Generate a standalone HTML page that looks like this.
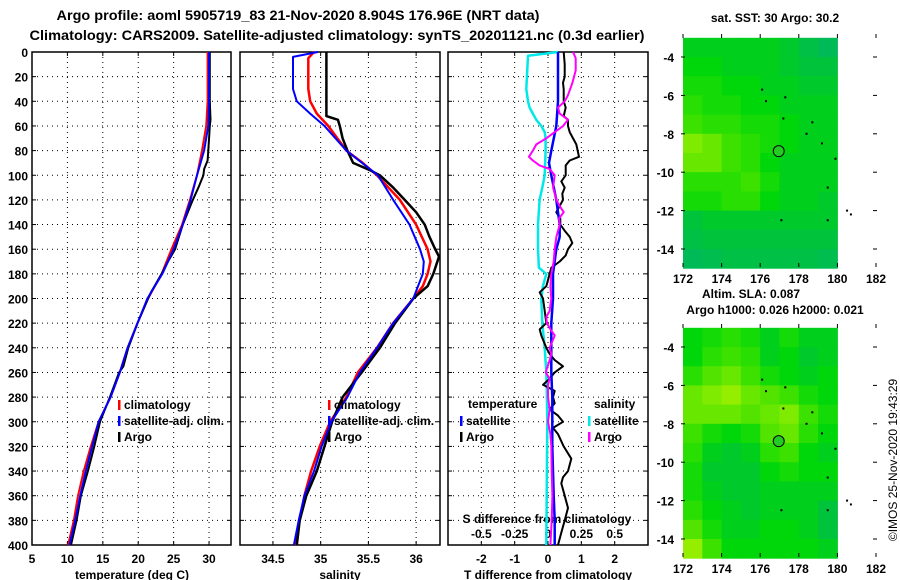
<!DOCTYPE html>
<html><head><meta charset="utf-8">
<style>
html,body{margin:0;padding:0;background:#fff;}
svg{display:block;font-family:"Liberation Sans",sans-serif;font-weight:bold;}
text{font-size:12px;fill:#000;}
</style></head>
<body>
<svg id="fig" width="900" height="580" viewBox="0 0 900 580" xmlns="http://www.w3.org/2000/svg">
<text x="298" y="20" text-anchor="middle" style="font-size:14px" textLength="483" lengthAdjust="spacingAndGlyphs">Argo profile: aoml 5905719_83 21-Nov-2020 8.904S 176.96E (NRT data)</text>
<text x="337" y="40" text-anchor="middle" style="font-size:14px" textLength="615" lengthAdjust="spacingAndGlyphs">Climatology: CARS2009. Satellite-adjusted climatology: synTS_20201121.nc (0.3d earlier)</text>
<g id="layer"></g>
</svg>
<script>
// ---------- data ----------
const depthTicks = [0,20,40,60,80,100,120,140,160,180,200,220,240,260,280,300,320,340,360,380,400];
const tempTicks = [5,10,15,20,25,30];
const salTicks = [34.5,35,35.5,36];
const tdiffTicks = [-2,-1,0,1,2];
const sdiffTicks = [-0.5,-0.25,0,0.25,0.5];
const sdiffTickLabels = ["-0.5","-0.25","0","0.25","0.5"];

const climTDepth = [0,20,40,60,80,100,120,140,160,180,200,220,240,260,280,300,320,340,360,380,400];
const climT = [29.8,29.8,29.8,29.6,29.0,28.3,27.3,26.2,24.7,23.3,21.4,19.9,18.5,17.4,16.1,14.4,13.3,12.3,11.5,10.9,10.1];
const satT = [30.0,30.0,30.0,29.9,29.3,28.3,27.4,26.3,25.0,23.4,21.3,19.9,18.5,17.4,16.1,14.4,13.5,12.6,11.8,11.1,10.3];
const argoTDepth = [0,20,40,55,60,80,88,95,100,110,120,140,160,170,180,195,200,220,240,255,260,280,300,320,340,360,380,400];
const argoT = [30.1,30.1,30.1,30.2,30.1,29.9,29.8,29.3,29.2,28.5,27.7,26.3,25.2,24.2,23.3,21.8,21.4,19.9,18.6,17.9,17.3,16.0,14.6,13.8,12.9,11.9,11.3,10.5];

const argoSDepth = [0,52,55,60,70,80,90,96,100,110,120,130,140,150,160,166,180,190,200,220,240,260,280,300,320,340,360,380,400];
const argoS = [35.06,35.06,35.18,35.2,35.23,35.28,35.34,35.52,35.62,35.76,35.88,36.0,36.09,36.14,36.2,36.24,36.18,36.12,35.97,35.78,35.62,35.43,35.23,35.12,35.04,34.96,34.85,34.78,34.75];
const climSDepth = [0,5,30,40,50,60,80,90,100,120,140,160,170,180,190,200,220,240,260,280,300,320,340,360,380,400];
const climS = [34.93,34.87,34.87,34.89,34.96,35.08,35.27,35.44,35.59,35.83,36.0,36.12,36.15,36.12,36.07,35.97,35.76,35.59,35.39,35.27,35.1,34.99,34.9,34.83,34.78,34.73];
const satSDepth = [0,4,30,40,50,60,80,100,120,140,160,170,180,190,200,220,240,260,280,300,320,340,360,380,400];
const satS = [34.97,34.71,34.71,34.75,34.89,35.04,35.27,35.6,35.76,35.93,36.04,36.08,36.07,36.02,35.97,35.76,35.59,35.41,35.28,35.11,35.01,34.93,34.83,34.77,34.72];

const satTdDepth = [0,40,60,80,90,100,120,140,150,160,180,200,220,260,280,320,340,360,380,400];
const satTd = [0.3,0.3,0.25,0.1,0.03,0.1,0.25,0.35,0.35,0.25,0.15,0.15,0.1,0.1,0.13,0.13,0.15,0.17,0.2,0.2];
const argoTdDepth = [0,10,20,25,30,40,45,52,55,60,65,75,85,88,92,100,105,110,115,120,130,135,140,145,150,155,160,165,170,175,180,190,195,200,210,220,225,230,240,245,250,255,260,265,270,275,280,285,290,295,300,305,310,320,330,340,345,350,360,370,380,390,400];
const argoTd = [0.47,0.5,0.5,0.45,0.47,0.47,0.53,0.47,0.6,0.6,0.65,0.85,0.93,0.65,0.53,0.53,0.4,0.5,0.43,0.45,0.25,0.37,0.37,0.5,0.65,0.73,0.6,0.53,0.35,0.1,0.05,-0.05,-0.25,-0.15,-0.1,-0.05,-0.25,-0.2,-0.05,0.05,0.2,0.45,0.2,0.05,-0.15,0.2,0.15,0.2,0.05,0.3,0.45,0.15,0.3,0.47,0.7,0.6,0.45,0.4,0.5,0.6,0.5,0.4,0.3];
const satSdDepth = [0,3,30,40,45,50,55,60,65,70,80,100,110,120,140,160,175,180,190,200,220,240,260,280,300,340,400];
const satSd = [0.075,-0.15,-0.163,-0.15,-0.138,-0.113,-0.088,-0.05,-0.025,-0.018,-0.018,-0.025,-0.043,-0.063,-0.075,-0.075,-0.068,-0.013,-0.038,-0.05,-0.043,-0.025,-0.013,-0.008,-0.005,-0.008,-0.013];
const argoSdDepth = [0,5,15,25,35,40,45,50,55,60,65,70,75,80,85,88,92,95,100,110,120,125,130,135,140,150,160,170,180,190,200,210,215,220,225,230,240,245,250,260,265,270,280,290,300,310,320,340,360,380,400];
const argoSd = [0.188,0.208,0.208,0.183,0.15,0.125,0.075,0.088,0.15,0.113,0.05,-0.013,-0.088,-0.113,-0.143,-0.113,-0.063,0.013,0.05,0.038,0.063,0.088,0.118,0.083,0.088,0.063,0.05,0.043,0.025,0.018,0.025,0.013,-0.013,-0.008,0.018,0.05,0.013,0.025,0.013,-0.018,0.013,0,0,0.013,0,0.018,0.025,0.028,0.033,0.028,0.018];

// map data: rows lat -3..-15 (1 deg), cols lon 172..180
const mapLonTicks = [172,174,176,178,180,182];
const mapLatTicks = [-4,-6,-8,-10,-12,-14];
const sstGrid = [
[0.45,0.45,0.45,0.45,0.45,0.4,0.3,0.2],
[0.5,0.5,0.45,0.45,0.45,0.4,0.35,0.35],
[0.55,0.55,0.5,0.5,0.45,0.45,0.4,0.4],
[0.6,0.55,0.55,0.5,0.5,0.45,0.45,0.45],
[0.65,0.6,0.6,0.55,0.55,0.5,0.45,0.45],
[0.8,0.75,0.65,0.6,0.55,0.5,0.45,0.45],
[0.75,0.75,0.65,0.6,0.5,0.45,0.45,0.45],
[0.6,0.6,0.6,0.65,0.55,0.45,0.45,0.45],
[0.55,0.55,0.6,0.6,0.5,0.45,0.45,0.4],
[0.35,0.4,0.4,0.4,0.4,0.4,0.4,0.4],
[0.3,0.35,0.35,0.35,0.35,0.35,0.35,0.35],
[0.2,0.25,0.3,0.3,0.3,0.3,0.3,0.25]];
const slaGrid = [
[0.5,0.55,0.6,0.55,0.45,0.55,0.45,0.45],
[0.5,0.6,0.65,0.6,0.45,0.5,0.4,0.45],
[0.6,0.7,0.75,0.65,0.55,0.5,0.45,0.5],
[0.75,0.8,0.85,0.75,0.7,0.65,0.55,0.5],
[0.75,0.75,0.75,0.7,0.75,0.8,0.65,0.55],
[0.65,0.55,0.5,0.55,0.7,0.75,0.6,0.5],
[0.6,0.45,0.4,0.45,0.6,0.65,0.5,0.45],
[0.55,0.4,0.4,0.4,0.5,0.55,0.5,0.5],
[0.55,0.45,0.4,0.4,0.45,0.45,0.45,0.45],
[0.6,0.5,0.45,0.4,0.45,0.45,0.45,0.35],
[0.7,0.55,0.45,0.45,0.5,0.5,0.45,0.35],
[0.85,0.65,0.5,0.5,0.5,0.5,0.5,0.45]];
const argoLon = 176.96, argoLat = -8.904;
const islandLon = [176.1,176.3,177.3,177.2,178.7,178.4,179.2,179.9,179.5,177.1,179.5,180.5,180.7];
const islandLat = [-5.7,-6.3,-6.1,-7.2,-7.4,-8.0,-8.5,-9.3,-10.8,-12.5,-12.5,-12.0,-12.2];

// ---------- helpers ----------
const NS = "http://www.w3.org/2000/svg";
const layer = document.getElementById('layer');
function mk(tag, attrs, parent){ const e=document.createElementNS(NS,tag); for(const k in attrs) e.setAttribute(k,attrs[k]); (parent||layer).appendChild(e); return e; }

const TOP=52, BOT=545;
const yD = d => TOP + (BOT-TOP)*d/400;
const panels = [
 {x0:32,x1:231,lo:5,hi:33.1,ticks:tempTicks,name:'temperature'},
 {x0:240,x1:440,lo:34.155,hi:36.25,ticks:salTicks,name:'salinity'},
 {x0:448,x1:648,lo:-3,hi:3,ticks:tdiffTicks,name:'difference'}
];
function sx(p,v){ return p.x0 + (v-p.lo)/(p.hi-p.lo)*(p.x1-p.x0); }
const sdiffScale = v => sx(panels[2], v*4);

panels.forEach((p,i)=>{
  const g = mk('g',{});
  
  
  // grid
  depthTicks.forEach(d=>{ if(d>0&&d<400){
    const l=mk('line',{x1:p.x0,x2:p.x1,y1:yD(d),y2:yD(d),stroke:'#000','stroke-width':1,'stroke-dasharray':'1,4'},g);
     
    mk('line',{x1:p.x0,x2:p.x0+4,y1:yD(d),y2:yD(d),stroke:'#000'},g);
    mk('line',{x1:p.x1-4,x2:p.x1,y1:yD(d),y2:yD(d),stroke:'#000'},g);
  }});
  p.ticks.forEach(t=>{
    const x=sx(p,t);
    if(x>p.x0+1 && x<p.x1-1){
      const l=mk('line',{x1:x,x2:x,y1:TOP,y2:BOT,stroke:'#000','stroke-width':1,'stroke-dasharray':'1,4'},g);
       
      mk('line',{x1:x,x2:x,y1:TOP,y2:TOP+4,stroke:'#000'},g);
      mk('line',{x1:x,x2:x,y1:BOT-4,y2:BOT,stroke:'#000'},g);
    }
    const tl=mk('text',{x:x,y:563,'text-anchor':'middle'},g); tl.textContent=String(t);
     
  });
  const fr=mk('rect',{x:p.x0,y:TOP,width:p.x1-p.x0,height:BOT-TOP,fill:'none',stroke:'#000','stroke-width':1.5},g);
   
});
depthTicks.forEach(d=>{
  const t=mk('text',{x:28,y:yD(d)+5,'text-anchor':'end'}); t.textContent=String(d);
   
});
[['temperature (deg C)',132],['salinity',340],['T difference from climatology',548]].forEach(([s,x])=>{
  const t=mk('text',{x:x,y:579,'text-anchor':'middle'}); t.textContent=s;
   
});
// S diff secondary axis
sdiffTicks.forEach((v,i)=>{
  const t=mk('text',{x:sdiffScale(v),y:538,'text-anchor':'middle'}); t.textContent=sdiffTickLabels[i];
   
});
{ const t=mk('text',{x:547,y:523,'text-anchor':'middle'}); t.textContent='S difference from climatology';
    }

function line(depths, vals, fx, color, w, name){
  const pts = depths.map((d,i)=> fx(vals[i]).toFixed(1)+','+yD(d).toFixed(1)).join(' ');
  const e = mk('polyline',{points:pts,fill:'none',stroke:color,'stroke-width':w,'stroke-linejoin':'round'});
  
  
}
const P=panels;
line(climTDepth, climT, v=>sx(P[0],v), '#ff0000', 2, 'temp-climatology-line');
line(argoTDepth, argoT, v=>sx(P[0],v), '#000000', 2, 'temp-argo-line');
line(climTDepth, satT, v=>sx(P[0],v), '#0000ff', 2, 'temp-satellite-line');
line(climSDepth, climS, v=>sx(P[1],v), '#ff0000', 2.5, 'sal-climatology-line');
line(argoSDepth, argoS, v=>sx(P[1],v), '#000000', 2.5, 'sal-argo-line');
line(satSDepth, satS, v=>sx(P[1],v), '#0000ff', 2, 'sal-satellite-line');
line(satSdDepth, satSd, sdiffScale, '#00e8e8', 2.5, 'sdiff-satellite-line');
line(argoTdDepth, argoTd, v=>sx(P[2],v), '#000000', 2, 'tdiff-argo-line');
line(satTdDepth, satTd, v=>sx(P[2],v), '#0000ff', 2.5, 'tdiff-satellite-line');
line(argoSdDepth, argoSd, sdiffScale, '#ff00ff', 2, 'sdiff-argo-line');

// legends
function legend(x, y, color, label){
  const g=mk('g',{});
   
  mk('rect',{x:x,y:y-9,width:2.5,height:10,fill:color},g);
  const t=mk('text',{x:x+6,y:y},g); t.textContent=label;
}
legend(118,409,'#ff0000','climatology');
legend(118,425,'#0000ff','satellite-adj. clim.');
legend(118,441,'#000000','Argo');
legend(328,409,'#ff0000','climatology');
legend(328,425,'#0000ff','satellite-adj. clim.');
legend(328,441,'#000000','Argo');
{ const t=mk('text',{x:468,y:408}); t.textContent='temperature';  
  const s=mk('text',{x:594,y:408}); s.textContent='salinity';   }
legend(460,425,'#0000ff','satellite');
legend(460,441,'#000000','Argo');
legend(588,425,'#00e8e8','satellite');
legend(588,441,'#ff00ff','Argo');

// maps
function colorOf(v){
  const stops=[[0,[0,175,125]],[0.35,[0,195,60]],[0.5,[0,215,10]],[0.65,[60,225,0]],[1,[215,248,0]]];
  for(let i=1;i<stops.length;i++){ if(v<=stops[i][0]){ const a=stops[i-1],b=stops[i],t=(v-a[0])/(b[0]-a[0]);
    return 'rgb('+a[1].map((c,j)=>Math.round(c+(b[1][j]-c)*t)).join(',')+')'; } }
  return 'rgb(215,248,0)';
}
function drawMap(grid, yTop, name, title, titleY){
  const lx = lon => 683 + (lon-172)*19.3;
  const ly = lat => yTop + 23 + (-4-lat)*19.2;
  const g=mk('g',{});
   
  grid.forEach((row,r)=>row.forEach((v,c)=>{
    const la0=-3-r; const x=lx(172+c), y=ly(la0);
    const cell=mk('rect',{x:x.toFixed(1),y:y.toFixed(1),width:19.8,height:19.7,fill:colorOf(v)},g);
     
  }));
  islandLon.forEach((lo,i)=>{ const d=mk('rect',{x:lx(lo)-1,y:ly(islandLat[i])-1,width:2,height:2,fill:'#000'},g);
      });
  const yb = yTop+233;
  mapLonTicks.forEach(t=>{ const x=lx(t);
    mk('line',{x1:x,x2:x,y1:yTop,y2:yTop+4,stroke:'#000'},g);
    mk('line',{x1:x,x2:x,y1:yb-4,y2:yb,stroke:'#000'},g);
    const tl=mk('text',{x:x,y:yb+16,'text-anchor':'middle'},g); tl.textContent=String(t);
      });
  mapLatTicks.forEach(t=>{ const y=ly(t);
    mk('line',{x1:681,x2:685,y1:y,y2:y,stroke:'#000'},g);
    mk('line',{x1:873,x2:877,y1:y,y2:y,stroke:'#000'},g);
    const tl=mk('text',{x:674,y:y+5,'text-anchor':'end'},g); tl.textContent=String(t);
      });
  const m=mk('circle',{cx:lx(argoLon),cy:ly(argoLat),r:5.5,fill:'#22cc22',stroke:'#000','stroke-width':1},g);
   
  title.forEach((s,i)=>{ const t=mk('text',{x:s[1],y:titleY[i],'text-anchor':'middle'},g); t.textContent=s[0];
      });
}
drawMap(sstGrid, 34, 'sst-map', [['sat. SST: 30 Argo: 30.2',775]], [22]);
drawMap(slaGrid, 324, 'sla-map', [['Altim. SLA: 0.087',751],['Argo h1000: 0.026 h2000: 0.021',775]], [298,314]);
{ const t=mk('text',{x:0,y:0,transform:'translate(897,460) rotate(-90)','text-anchor':'middle',style:'font-weight:normal;font-size:12px'}); t.textContent='\u00A9IMOS 25-Nov-2020 19:43:29';
    }
</script>
</body></html>
